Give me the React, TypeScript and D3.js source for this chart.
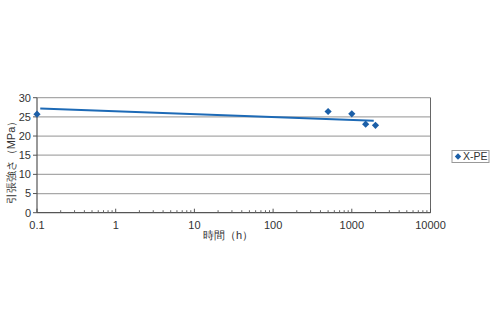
import React from "react";
import * as d3 from "d3";

const hours = [0.1, 500, 1000, 1500, 2000];
const strength = [25.7, 26.4, 25.8, 23.1, 22.8];
const trendHours = [0.11, 1900];
const trendStrength = [27.2, 24.0];
const xTicks = [0.1, 1, 10, 100, 1000, 10000];
const xTickLabels = ["0.1", "1", "10", "100", "1000", "10000"];
const yTicks = [0, 5, 10, 15, 20, 25, 30];
const seriesName = "X-PE";

const W = 495, H = 330;
const L = 37, R = 430.5, T = 97.7, B = 212.7;
const font = "'Liberation Sans', Arial, sans-serif";
const blue = "#1b5fa8";

export default function App() {
  const x = d3.scaleLog().domain([0.1, 10000]).range([L, R]);
  const y = d3.scaleLinear().domain([0, 30]).range([B, T]);
  const minor: number[] = [];
  for (let e = -1; e < 4; e++) for (let k = 2; k <= 9; k++) minor.push(k * Math.pow(10, e));
  const line = d3.line<number>().x((_, i) => x(trendHours[i])).y((d) => y(d));
  const diamond = (cx: number, cy: number, r = 3.6) =>
    `M${cx},${cy - r}L${cx + r},${cy}L${cx},${cy + r}L${cx - r},${cy}Z`;
  return (
    <svg width={W} height={H} style={{ position: "absolute", left: 0, top: 0 }} fontFamily={font}>
      <rect width={W} height={H} fill="#fff" />
      {yTicks.filter((t) => t > 0).map((t) => (
        <line key={t} x1={L} x2={R} y1={y(t)} y2={y(t)} stroke="#a8a8a8" strokeWidth={1.2} />
      ))}
      <line x1={R} x2={R} y1={T} y2={B} stroke="#666" strokeWidth={1} />
      <line x1={L} x2={L} y1={T} y2={B} stroke="#555" strokeWidth={1.2} />
      <line x1={L} x2={R} y1={B} y2={B} stroke="#555" strokeWidth={1.2} />
      {yTicks.map((t) => (
        <g key={t}>
          <line x1={L - 4} x2={L} y1={y(t)} y2={y(t)} stroke="#555" />
          <text x={31} y={y(t)} dy="0.35em" textAnchor="end" fontSize={11} fill="#333">{t}</text>
        </g>
      ))}
      {minor.map((m, i) => (
        <line key={i} x1={x(m)} x2={x(m)} y1={B} y2={B - 2.5} stroke="#666" />
      ))}
      {xTicks.map((t, i) => (
        <g key={t}>
          <line x1={x(t)} x2={x(t)} y1={B} y2={B - 4} stroke="#555" />
          <text x={x(t)} y={225} dy="0.35em" textAnchor="middle" fontSize={11} fill="#333">{xTickLabels[i]}</text>
        </g>
      ))}
      <path d={line(trendStrength) || ""} fill="none" stroke="#1d6ab6" strokeWidth={2} />
      {hours.map((h, i) => (
        <path key={i} d={diamond(x(h), y(strength[i]))} fill={blue} />
      ))}
      <text x={228} y={235.5} dy="0.35em" textAnchor="middle" fontSize={11} fill="#333">時間（h）</text>
      <text transform={`translate(11,160) rotate(-90)`} textAnchor="middle" fontSize={11} dy="0.35em" fill="#333">引張強さ（MPa）</text>
      <rect x={452} y={150.5} width={37} height={12} fill="#fff" stroke="#999" />
      <path d={diamond(458, 156.5, 3.2)} fill={blue} />
      <text x={463} y={156.5} dy="0.35em" fontSize={10.5} fill="#333">{seriesName}</text>
    </svg>
  );
}
